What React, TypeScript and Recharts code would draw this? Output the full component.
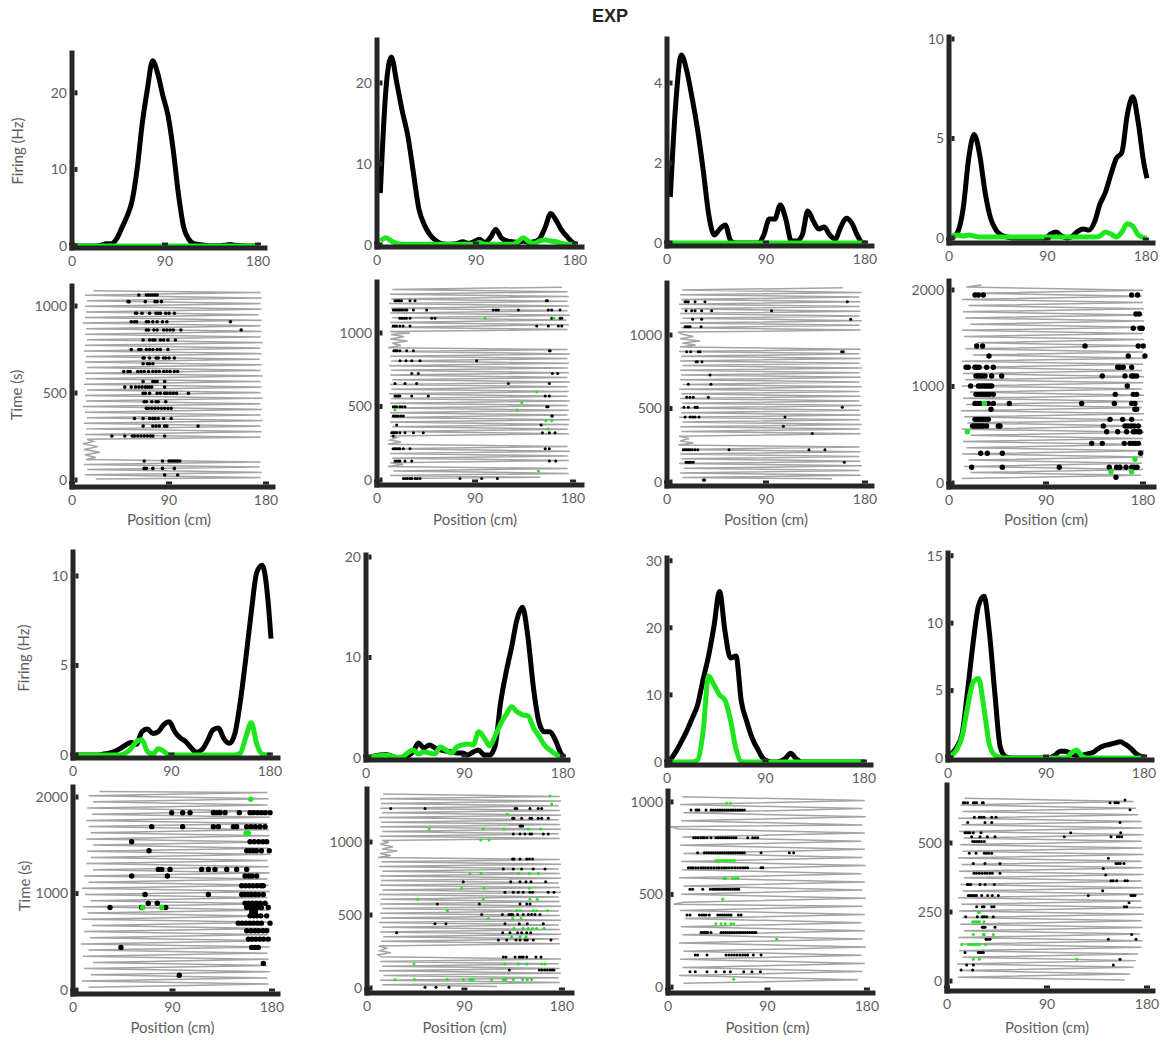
import React from "react";
import { LineChart, ComposedChart, Line, Scatter, XAxis, YAxis } from "recharts";

const FONT = "Lato, 'Noto Sans', sans-serif";
const AXIS = "#262626";
const TEXT = "#5e5e5e";
const GREEN = "#1de61d";
const TRACE = "#a4a4a4";

const X_TICKS = [0, 90, 180];
const POS_CM = [3, 8, 13, 18, 23, 28, 33, 38, 43, 48, 53, 58, 63, 68, 73, 78, 83, 88, 93, 98, 103, 108, 113, 118, 123, 128, 133, 138, 143, 148, 153, 158, 163, 168, 173, 178, 181];

// firing rate (Hz) at POS_CM, black = all, green = tagged
const RATE_A_BLACK = [0, 0, 0, 0, 0, 0.1, 0.3, 0.3, 0.9, 2.3, 3.8, 5.8, 10, 16, 20.5, 24.2, 22.5, 19.6, 17, 12.5, 6.8, 2.5, 0.9, 0.3, 0.2, 0.1, 0.05, 0.05, 0.05, 0.1, 0.2, 0.1, 0.05, 0, 0, 0, 0];
const RATE_A_GREEN = [0, 0, 0, 0, 0, 0, 0, 0, 0, 0, 0, 0, 0, 0, 0, 0, 0, 0, 0, 0, 0, 0, 0, 0, 0, 0, 0, 0, 0, 0, 0, 0, 0, 0, 0, 0, 0];
const RATE_B_BLACK = [6.4, 19, 23.2, 20, 16.5, 13.5, 9, 4.5, 2.5, 1.3, 0.6, 0.2, 0.1, 0.1, 0.2, 0.4, 0.2, 0.4, 0.7, 0.3, 0.9, 1.9, 0.9, 0.5, 0.4, 0.3, 0.5, 0.3, 0.4, 0.8, 2.2, 3.9, 3, 1.8, 1, 0.3, 0.1];
const RATE_B_GREEN = [0.5, 0.9, 0.5, 0.2, 0.1, 0.1, 0.1, 0.1, 0.1, 0.1, 0.1, 0.1, 0.1, 0.1, 0.1, 0.1, 0.1, 0.1, 0.3, 0.1, 0.1, 0.1, 0.1, 0.1, 0.1, 0.4, 0.9, 0.4, 0.2, 0.5, 0.6, 0.5, 0.4, 0.2, 0.1, 0.1, 0.1];
const RATE_C_BLACK = [1.15, 3.5, 4.7, 4.3, 3.6, 2.8, 1.8, 0.7, 0.2, 0.35, 0.45, 0.05, 0, 0, 0, 0, 0, 0.2, 0.6, 0.6, 0.95, 0.6, 0.05, 0.05, 0.2, 0.8, 0.55, 0.35, 0.4, 0.2, 0.1, 0.4, 0.62, 0.5, 0.2, 0, 0];
const RATE_C_GREEN = [0, 0, 0, 0, 0, 0, 0, 0, 0, 0, 0, 0, 0, 0, 0, 0, 0, 0, 0, 0, 0, 0, 0, 0, 0, 0, 0, 0, 0, 0, 0, 0, 0, 0, 0, 0, 0];
const RATE_D_BLACK = [0, 0.3, 1.5, 4, 5.2, 4.2, 2.3, 1, 0.4, 0.15, 0.05, 0, 0, 0, 0, 0, 0, 0, 0.2, 0.3, 0.1, 0, 0.1, 0.35, 0.45, 0.4, 0.8, 1.7, 2.3, 3.2, 4, 4.3, 6.2, 7.1, 5.8, 3.8, 3];
const RATE_D_GREEN = [0.1, 0.15, 0.1, 0.15, 0.1, 0.05, 0.05, 0.05, 0.05, 0.05, 0.05, 0.05, 0.05, 0.05, 0.05, 0.05, 0.05, 0.05, 0.05, 0.05, 0.05, 0.05, 0.05, 0.05, 0.05, 0.05, 0.05, 0.1, 0.3, 0.2, 0.05, 0.3, 0.72, 0.6, 0.15, 0.02, 0];
const RATE_E_BLACK = [0, 0, 0, 0, 0, 0.05, 0.1, 0.2, 0.35, 0.55, 0.7, 0.6, 1.3, 1.45, 1.2, 1.3, 1.7, 1.85, 1.3, 0.95, 0.75, 0.4, 0.15, 0.3, 0.8, 1.4, 1.5, 0.9, 0.65, 1.2, 3, 5.4, 8, 10.2, 10.6, 8.8, 6.5];
const RATE_E_GREEN = [0, 0, 0, 0, 0, 0, 0, 0, 0, 0.1, 0.35, 0.75, 0.85, 0.2, 0.05, 0.35, 0.2, 0, 0, 0, 0, 0, 0, 0, 0, 0, 0, 0, 0, 0, 0.1, 1, 1.8, 0.6, 0.05, 0, 0];
const RATE_F_BLACK = [0.1, 0.2, 0.3, 0.35, 0.2, 0.05, 0.05, 0.2, 0.6, 1.5, 1, 1.3, 1, 0.8, 0.7, 0.6, 0.5, 0.5, 0.3, 0.6, 0.8, 0.3, 0.3, 1.2, 5.5, 8.5, 11, 13.8, 15, 12, 7, 3.6, 2.6, 2.6, 1.8, 0.5, 0.1];
const RATE_F_GREEN = [0.1, 0.15, 0.25, 0.3, 0.2, 0.05, 0.1, 0.5, 0.8, 0.4, 0.6, 0.5, 0.4, 1.1, 0.8, 0.5, 1.1, 1.3, 1.4, 1.3, 2.6, 2, 1.2, 2.2, 3.4, 4.3, 5.1, 4.6, 4.3, 4.2, 3, 2.2, 1.3, 0.8, 0.4, 0.05, 0];
const RATE_G_BLACK = [0.3, 1.5, 3, 4.6, 6.5, 8.5, 12.3, 15.8, 20.3, 25.4, 19.5, 15.5, 15.8, 9, 6, 3.5, 1.9, 0.5, 0.1, 0, 0.1, 0.5, 1.3, 0.5, 0, 0, 0, 0, 0, 0, 0, 0, 0, 0, 0, 0, 0];
const RATE_G_GREEN = [0, 0, 0, 0, 0, 0.3, 4.5, 12.8, 11.5, 10, 9.2, 6.3, 2, 0.05, 0, 0, 0, 0, 0, 0, 0, 0, 0, 0, 0, 0, 0, 0, 0, 0, 0, 0, 0, 0, 0, 0, 0];
const RATE_H_BLACK = [0.3, 0.8, 1.8, 5, 8.5, 11.3, 12, 9.3, 4.8, 0.8, 0.1, 0, 0, 0, 0, 0, 0, 0, 0, 0.2, 0.5, 0.5, 0.3, 0.2, 0.2, 0.3, 0.4, 0.7, 0.9, 1, 1.1, 1.2, 1, 0.7, 0.3, 0.1, 0.05];
const RATE_H_GREEN = [0.2, 0.6, 1.6, 3.8, 5.6, 5.9, 3.7, 1, 0.2, 0.05, 0, 0, 0, 0, 0, 0, 0, 0, 0, 0, 0, 0, 0.35, 0.6, 0.15, 0, 0, 0, 0, 0, 0, 0, 0, 0, 0, 0, 0];

// animal trajectory turn points [position cm, time s]
const TRACE_A: [number, number][] = [[22, 6], [175, 14], [12, 30], [176, 44], [14, 60], [174, 75], [11, 90], [175, 104], [13, 118], [22, 130], [12, 145], [26, 160], [11, 176], [24, 192], [10, 208], [20, 222], [14, 234], [175, 246], [12, 262], [176, 278], [13, 294], [175, 310], [11, 326], [177, 342], [14, 358], [175, 374], [12, 390], [176, 406], [10, 422], [175, 438], [13, 454], [177, 470], [12, 486], [175, 502], [14, 518], [176, 534], [11, 550], [175, 566], [13, 582], [177, 598], [12, 614], [175, 630], [14, 646], [176, 662], [12, 678], [174, 694], [13, 710], [176, 726], [11, 742], [175, 758], [12, 774], [177, 790], [14, 806], [175, 822], [12, 838], [176, 854], [13, 870], [175, 886], [10, 902], [176, 918], [12, 934], [173, 950], [13, 966], [176, 982], [12, 998], [175, 1014], [14, 1030], [176, 1046], [12, 1062], [175, 1078], [20, 1088]];
const TRACE_B: [number, number][] = [[40, 12], [150, 18], [12, 30], [176, 45], [15, 62], [175, 78], [10, 92], [24, 105], [12, 118], [176, 132], [14, 148], [175, 164], [12, 180], [177, 196], [13, 212], [175, 228], [10, 244], [22, 258], [12, 272], [18, 288], [12, 300], [176, 314], [13, 330], [175, 346], [14, 362], [176, 378], [12, 394], [177, 410], [13, 426], [175, 442], [12, 458], [176, 474], [14, 490], [175, 506], [12, 522], [177, 538], [13, 554], [175, 570], [11, 586], [176, 602], [13, 618], [175, 634], [12, 650], [177, 666], [14, 682], [175, 698], [12, 714], [176, 730], [13, 746], [175, 762], [11, 778], [176, 794], [13, 810], [175, 826], [12, 842], [177, 858], [14, 874], [175, 888], [10, 900], [22, 915], [14, 930], [28, 945], [12, 960], [25, 975], [13, 990], [30, 1000], [12, 1010], [175, 1024], [13, 1040], [176, 1056], [12, 1072], [174, 1088], [14, 1104], [177, 1120], [12, 1136], [175, 1152], [13, 1168], [176, 1184], [11, 1200], [175, 1216], [13, 1232], [176, 1248], [12, 1264], [175, 1280], [14, 1296], [170, 1312]];
const TRACE_C: [number, number][] = [[150, 22], [14, 30], [176, 46], [12, 62], [175, 78], [15, 94], [177, 110], [11, 126], [176, 142], [13, 158], [175, 174], [12, 190], [176, 206], [14, 222], [175, 238], [10, 252], [24, 266], [12, 280], [20, 296], [11, 312], [176, 328], [13, 344], [175, 360], [12, 376], [177, 392], [14, 408], [175, 424], [11, 440], [176, 456], [13, 472], [175, 488], [12, 504], [177, 520], [14, 536], [175, 552], [12, 568], [176, 584], [13, 600], [175, 616], [11, 632], [177, 648], [14, 664], [175, 680], [12, 696], [176, 712], [13, 728], [175, 744], [12, 760], [177, 776], [14, 792], [175, 808], [12, 824], [176, 840], [13, 856], [175, 872], [11, 888], [176, 904], [12, 918], [26, 932], [14, 946], [30, 960], [12, 975], [24, 990], [14, 1005], [10, 1020], [176, 1034], [13, 1050], [175, 1066], [12, 1082], [177, 1098], [14, 1114], [175, 1130], [12, 1146], [176, 1162], [13, 1178], [175, 1194], [11, 1210], [176, 1226], [13, 1242], [175, 1258], [12, 1274], [177, 1290], [14, 1306], [160, 1322]];
const TRACE_D: [number, number][] = [[12, 48], [178, 80], [20, 110], [180, 140], [14, 172], [179, 205], [18, 238], [180, 270], [12, 302], [181, 334], [16, 366], [179, 398], [13, 430], [180, 462], [20, 494], [181, 526], [12, 558], [179, 590], [17, 622], [180, 654], [14, 686], [181, 718], [11, 750], [179, 782], [16, 814], [180, 846], [13, 878], [181, 910], [19, 942], [179, 974], [12, 1006], [180, 1038], [15, 1070], [181, 1102], [13, 1134], [179, 1166], [18, 1198], [180, 1230], [12, 1262], [181, 1294], [22, 1326], [180, 1358], [15, 1390], [179, 1422], [26, 1454], [181, 1486], [14, 1518], [180, 1550], [12, 1582], [179, 1614], [20, 1646], [181, 1678], [15, 1710], [180, 1742], [13, 1774], [181, 1806], [18, 1838], [180, 1870], [12, 1902], [179, 1934], [24, 1966], [180, 1998], [16, 2030], [30, 2052]];
const TRACE_E: [number, number][] = [[14, 30], [177, 62], [8, 94], [176, 126], [16, 158], [178, 190], [10, 222], [176, 254], [18, 286], [177, 318], [9, 350], [176, 382], [14, 414], [178, 446], [7, 478], [177, 510], [15, 542], [176, 574], [10, 606], [178, 638], [17, 670], [177, 702], [8, 734], [176, 766], [13, 798], [178, 830], [9, 862], [177, 894], [16, 926], [176, 958], [11, 990], [178, 1022], [8, 1054], [177, 1086], [14, 1118], [176, 1150], [10, 1182], [178, 1214], [18, 1246], [177, 1278], [12, 1310], [176, 1342], [16, 1374], [178, 1406], [13, 1438], [177, 1470], [18, 1502], [176, 1534], [12, 1566], [178, 1598], [16, 1630], [177, 1662], [14, 1694], [176, 1726], [12, 1758], [178, 1790], [17, 1822], [177, 1854], [13, 1886], [176, 1918], [18, 1950], [177, 1982], [14, 2014], [176, 2046], [24, 2058]];
const TRACE_F: [number, number][] = [[120, 10], [14, 22], [178, 38], [12, 54], [177, 70], [15, 86], [179, 102], [11, 118], [178, 134], [14, 150], [177, 166], [12, 182], [179, 198], [13, 214], [10, 228], [22, 242], [12, 256], [18, 272], [11, 288], [178, 304], [13, 320], [177, 336], [15, 352], [179, 368], [12, 384], [178, 400], [14, 416], [177, 432], [11, 448], [179, 464], [13, 480], [178, 496], [12, 512], [177, 528], [14, 544], [179, 560], [12, 576], [178, 592], [13, 608], [177, 624], [11, 640], [179, 656], [14, 672], [178, 688], [12, 704], [177, 720], [13, 736], [179, 752], [12, 768], [178, 784], [14, 800], [177, 816], [11, 832], [179, 848], [13, 864], [178, 880], [10, 894], [22, 908], [12, 922], [28, 938], [14, 952], [24, 968], [12, 984], [20, 998], [14, 1010], [178, 1024], [12, 1040], [177, 1056], [14, 1072], [179, 1088], [12, 1104], [178, 1120], [13, 1136], [177, 1152], [11, 1168], [179, 1184], [14, 1200], [178, 1216], [12, 1232], [177, 1248], [13, 1264], [179, 1280], [12, 1296], [178, 1312], [15, 1328]];
const TRACE_G: [number, number][] = [[14, 20], [172, 40], [10, 62], [176, 84], [13, 106], [178, 128], [11, 150], [175, 172], [14, 194], [179, 216], [10, 238], [176, 260], [13, 282], [178, 304], [12, 326], [175, 348], [15, 370], [178, 392], [11, 414], [176, 436], [5, 448], [14, 458], [179, 480], [12, 502], [176, 524], [14, 546], [178, 568], [10, 590], [175, 612], [13, 634], [179, 656], [12, 678], [176, 700], [14, 722], [178, 744], [11, 766], [175, 788], [13, 810], [178, 832], [10, 854], [2, 866], [176, 876], [12, 898], [179, 920], [14, 942], [176, 964], [11, 986], [178, 1008], [13, 1028]];
const TRACE_H: [number, number][] = [[160, 4], [10, 14], [165, 26], [12, 38], [168, 50], [9, 62], [170, 74], [14, 86], [172, 98], [11, 110], [175, 122], [13, 134], [176, 146], [10, 158], [174, 170], [15, 182], [176, 194], [12, 206], [175, 218], [14, 230], [177, 242], [11, 254], [176, 266], [13, 278], [175, 290], [10, 302], [177, 314], [14, 326], [176, 338], [12, 350], [175, 362], [15, 374], [177, 386], [11, 398], [176, 410], [13, 422], [175, 434], [10, 446], [177, 458], [14, 470], [176, 482], [12, 494], [175, 506], [15, 518], [177, 530], [11, 542], [176, 554], [13, 566], [175, 578], [10, 590], [172, 602], [14, 614], [170, 626], [12, 638], [168, 650], [16, 662]];

// spikes: [time s, positions cm]
const SPK_A_BLACK: [number, number[]][] = [
  [1063, [62, 69, 71, 73, 75, 77, 79]], [1025, [52, 53, 68, 77, 79, 83]], [958, [59, 60, 65, 72, 78, 80, 82, 87, 90, 95]],
  [910, [55, 58, 60, 69, 71, 75, 79, 84, 88, 147]], [862, [69, 71, 76, 79, 85, 88, 91, 94, 101, 157]], [805, [66, 72, 75, 77, 82, 85, 89, 96]],
  [750, [55, 62, 64, 69, 72, 75, 79, 82, 89]], [701, [66, 67, 72, 78, 80, 85, 87, 90, 95]], [668, [66, 70, 72, 75]],
  [624, [48, 52, 54, 61, 64, 67, 71, 75, 78, 81, 85, 88, 91, 95, 98]], [566, [66, 75, 77, 79, 86]], [534, [49, 55, 59, 62, 65, 68, 70, 72, 74, 86]],
  [498, [66, 68, 72, 79, 82, 86, 88, 91, 94, 97, 108]], [450, [67, 69, 74, 78, 80, 87]], [412, [69, 71, 74, 77, 80, 83, 86, 89, 92]],
  [354, [58, 66, 72, 75, 77, 80, 85, 92]], [310, [66, 75, 78, 81, 86, 88, 117]], [253, [37, 49, 56, 58, 61, 64, 67, 70, 73, 75, 86]],
  [109, [67, 84, 90, 92, 94, 96, 98, 100]], [67, [67, 69, 75, 84, 95]], [29, [86, 98]],
];
const SPK_A_GREEN: [number, number[]][] = [];
const SPK_B_BLACK: [number, number[]][] = [
  [1220, [16.5, 18, 19.6, 21, 22.5, 30.3, 34.9, 155.5, 156.5]], [1156, [15, 16.5, 18, 19.6, 21, 22.5, 24, 26, 27.5, 33.4, 45.6, 106.8, 109.3, 111.4, 129.8, 157.3, 160.4, 168]],
  [1100, [21, 23, 25, 27, 30.3, 50.2, 53.3, 160.4, 168, 169.6]], [1047, [15, 16.5, 18, 21, 24, 30.3, 146.6, 157.3, 166.5, 169.6]],
  [879, [15.5, 17, 18.5, 21, 27.2, 33.4, 158.2, 159]], [811, [21.1, 26.7, 31.9, 39.5, 91.5]], [725, [31.9, 37.9, 161, 165.9]],
  [657, [16.5, 25.7, 36.4, 120.6, 158.2]], [572, [16.5, 18, 19.6, 21, 31.9, 47.1, 154.4, 158.2]], [498, [15, 16.5, 18, 21, 23, 25.7, 155.8, 157]],
  [435, [15, 16.5, 18, 19.6, 22, 24.2, 160.4, 161]], [374, [18.1, 150.7]], [322, [13.5, 15, 16.5, 18, 21, 25.7, 33.4, 42.5, 151.9, 158.2, 163.5]],
  [300, [15]], [213, [15, 16.5, 18, 19.6, 21, 24.2, 30.3, 154.4, 158.2]], [129, [16.5, 18, 19.6, 21, 25.7, 31.9, 158.2, 164.1]],
  [10, [24.2, 26, 28, 30.3, 32, 34.9, 37, 39.5, 76.2, 96.1, 110.5]],
];
const SPK_B_GREEN: [number, number[]][] = [[1100, [99.2, 162.5]], [601, [146.6]], [525, [132.9]], [476, [16.5, 128.8]], [403, [155, 160.4]], [347, [157.3]], [62, [148.2]]];
const SPK_C_BLACK: [number, number[]][] = [
  [1227, [16.4, 17.5, 19.4, 25.5, 34.5, 163.9]], [1166, [17.3, 22.4, 25.5, 31.5, 40.6, 95.1]], [1108, [23.3, 31.5, 167]],
  [1057, [16.4, 18, 19.4, 20.9, 31]], [887, [17.9, 21.5, 28.5, 30, 158.8, 160.3]], [819, [26.4, 27.6, 31.8]], [728, [39.1]],
  [665, [19.4, 40]], [577, [17.9, 20.9, 23.9, 37.6]], [509, [15.4, 19.4, 25.5, 26.5, 27.6, 159.4]],
  [443, [16.4, 20.9, 23.3, 25.5, 29.1, 107.3]], [380, [105.8]], [330, [132.1]],
  [219, [14.8, 16.3, 17.8, 19.4, 21, 23, 25.5, 28, 56.4, 129.1, 143.6]], [135, [17.3, 18.8, 20.3, 21.8, 23.9, 161.2]], [14, [33, 33.6, 34.2]],
];
const SPK_C_GREEN: [number, number[]][] = [];
const SPK_D_BLACK: [number, number[]][] = [
  [1948, [24.1, 27.2, 31.8, 169.5, 175]], [1751, [173.5, 176.5]], [1603, [171, 177.2, 179.3]], [1420, [25.7, 31.2, 126.2, 175.6, 180.2]],
  [1316, [37.1, 166.3, 181.8]], [1199, [15.8, 17.9, 24.1, 26, 28, 34.9, 41.1, 156.5, 158.6, 161.7, 169.5]],
  [1109, [25, 27, 29, 31, 33.4, 39.6, 48.9, 142.2, 163.3, 169.5, 171.5, 174.1]], [1005, [20.1, 27.2, 29.2, 31.5, 33.5, 35.5, 37.5, 39.6, 165.4]],
  [919, [25, 27.5, 30, 32.5, 35, 37.5, 41.1, 154.3, 171, 174.1]], [825, [24.1, 26.5, 28.8, 36.5, 41.1, 56, 123.1, 153.4, 169.5, 172.5]],
  [764, [39, 172.5, 174.1]], [660, [24.1, 26.5, 29, 31.5, 34, 36.5, 149.4, 161.1, 169.5]],
  [591, [21.9, 24, 26, 28, 30, 32, 34.9, 45.7, 47.3, 143.2, 163.3, 166, 169, 172, 175.6]], [532, [146.3, 156.5, 164.8, 171, 173.5, 176, 177.2]],
  [411, [132.4, 142.2, 162.6, 167.9, 170.5, 173, 175.6]], [308, [29.4, 35.5, 49.5, 177.8]],
  [163, [21, 49.5, 102.3, 148.7, 155.5, 158.6, 164.2, 169.5, 172, 174.5]], [60, [154.9]],
];
const SPK_D_GREEN: [number, number[]][] = [[825, [32.8]], [532, [17]], [246, [172.5]], [118, [150.3, 169.5]]];
const SPK_E_BLACK: [number, number[]][] = [
  [1838, [89.3, 99.2, 105.9, 127, 130, 133, 137.6, 150.5, 160.2, 163.5, 167, 170.5, 174, 178.3]], [1693, [71.2, 99.2, 127, 131.5, 145.1, 148.1, 157.2, 161, 165, 169.2, 173.8]],
  [1537, [53.1, 160.2, 164, 168, 172, 175.3]], [1444, [68.8, 157.2, 160, 163, 166, 170.5, 177.6]],
  [1250, [77.2, 80.3, 87.8, 116.4, 122.5, 128.5, 139.1, 148.1, 157.2]], [1181, [53.1, 85.4, 155.7, 159, 162, 166.2]],
  [1081, [152.6, 156, 159.5, 163, 166.5, 170, 172.2]], [990, [65.2, 122.5, 152.6, 155.5, 158.5, 161.5, 164.7, 168, 172.2]],
  [900, [68.1, 76.3, 155.7, 159, 162.5, 166, 169.5, 173.8]], [855, [33.5, 62.2, 83.9, 157.2, 160.5, 163.5, 167, 170.5, 176.7]],
  [810, [161.7, 165]], [769, [160.2, 163.5, 166.5, 170, 175.3]], [693, [149.6, 153, 156.5, 160, 163.5, 167, 170.5, 178.3]],
  [614, [157.2, 161, 164.7, 168, 172, 175.3]], [528, [158.7, 162, 165.5, 169, 172.5, 176.7]], [442, [43.4, 161.7, 164.7, 167.7]],
  [276, [172.2]], [153, [96.2]],
];
const SPK_E_GREEN: [number, number[]][] = [[1976, [160.8]], [1624, [156.6, 158.7]], [855, [63.1, 80.3]]];
const SPK_F_BLACK: [number, number[]][] = [
  [1230, [21.9, 53.6, 136.7, 138.2, 150.5, 158.1, 161.3]], [1162, [134.5, 135.7, 142.8, 150.5, 152, 158.1, 161.3, 167.4]], [1109, [141.3, 142.5, 143.7]],
  [1055, [135.1, 141.3, 145.9, 150.5, 152, 162.8, 167.4]], [884, [134.5, 135.7, 141.3, 147.5, 150, 152.9]], [815, [125.9, 135.1, 142.8, 153.5, 164.4]],
  [728, [88.9, 132.7, 141.3, 146.8, 151.4, 165]], [656, [127.4, 135.1, 139.7, 144.3, 150.5, 152.9, 167.4, 172.7]], [575, [64.9, 103.7, 141.3, 147.5, 150.5]],
  [504, [105.9, 125, 131.1, 133, 134.5, 139.1, 144.3, 148.9, 152, 155.1, 159.7]], [440, [62.8, 72.9, 127.4, 140.6, 148, 162.8]],
  [379, [27.4, 125.3, 132, 139.1, 142.8, 147.5, 151.1]], [329, [121.3, 129, 137.6, 141.3, 145.9, 148, 153.5, 169.9]],
  [212, [125.9, 128.3, 136.7, 140.6, 142.5, 144.3, 147.5, 156, 160.7]], [124, [131.4, 159.1, 161.5, 164, 166.5, 169, 171, 172.7]], [5, [53.6, 63.7, 75.7]],
];
const SPK_F_GREEN: [number, number[]][] = [
  [1315, [169]], [1260, [170.5]], [1190, [129.6]], [1089, [57.5, 107.4, 126.5, 148.9, 160.3]], [1014, [105, 112.7]],
  [785, [95.1, 105.3, 139.7, 149.9, 158.1]], [683, [87.4, 108.3, 149.9]], [608, [46.8, 107.4, 150.5, 157.2]],
  [530, [74.2, 138.2, 141.3, 153.5, 156.6, 166.8]], [477, [112, 134.5, 142.2]], [408, [135.7, 144.3, 148.9, 152.9, 156.6, 163.4]],
  [352, [133.6, 141.3, 146.8]], [165, [43.4, 127.4, 139.7, 147.5, 161.3, 164.4]],
  [59, [25.9, 43.7, 74.2, 88.9, 95.1, 96.6, 98.2, 115.1, 125.9, 127.4, 128.3, 135.1, 143.7, 148, 152]],
];
const SPK_G_BLACK: [number, number[]][] = [
  [957, [20.8, 25.3, 26.8, 28, 34.4, 38.9, 41, 43, 45, 47, 49, 51, 53, 55, 57, 59, 61, 63, 65, 67, 69.1]],
  [807, [23.2, 25, 27, 29.5, 31.5, 32.9, 35.3, 38.9, 43.4, 45.5, 47.5, 49.5, 51.5, 53.5, 55.5, 57.5, 59.5, 61.5, 72.1, 76.6, 79, 81.2]],
  [726, [26.8, 32.9, 35, 37, 39, 41, 43, 45, 47, 49, 51, 53, 55, 57, 59, 61, 63, 65, 67, 69.1, 84.2, 109.8, 113.7]],
  [645, [18.4, 20.5, 22.5, 25, 27.5, 30, 32, 34, 36.5, 39, 41.5, 44, 46, 48.5, 51, 53, 55.5, 58, 60.5, 63, 65.5, 68, 70, 72.1, 84.2, 85.7]],
  [528, [19.9, 22.3, 31.4, 38.3, 40.5, 42.5, 44.5, 46.5, 48.5, 50.5, 52.5, 54.5, 56.5, 58.5, 60.5, 62.5, 64]],
  [389, [17.2, 19.9, 28.4, 30.5, 32.5, 34.5, 37.4, 45, 47, 49, 51, 53, 55, 57, 63.7, 66.1]],
  [295, [29.9, 31.5, 33, 34.5, 36, 38.9, 48, 50, 52, 54, 56, 58, 60, 62, 64, 66, 68, 70, 72, 74, 76, 78, 79.6]],
  [173, [24.7, 26.8, 35.3, 52.5, 55, 57.5, 60, 62.5, 65, 67.5, 70, 72.1, 77.2, 84.2]],
  [83, [19.9, 24.7, 35.3, 43.4, 51, 56.4, 68.5, 76, 83.6]],
];
const SPK_G_GREEN: [number, number[]][] = [
  [993, [53, 56.5]], [683, [43.4, 45.5, 47.5, 49.5, 51.5, 53.5, 55.5, 57.5, 60]], [586, [50.4, 52, 58.5, 61, 63.1]],
  [474, [49.5]], [342, [43.4, 48, 51.9, 57, 59.5]], [258, [98.4]], [42, [59.4]],
];
const SPK_H_BLACK: [number, number[]][] = [
  [656, [160.2]], [646, [14.7, 16.2, 18.5, 23.7, 25.2, 26.7, 31.8, 32.7, 146.7, 151.2, 152.5, 154.2]], [620, [164.7]],
  [593, [24.6, 29.1, 31, 33.3, 40.2, 44.1]], [574, [18.6, 34.2, 40.2, 155.7]], [537, [16.2, 17.5, 19.2, 20.7, 23.7, 30.6, 111.3, 156.3]],
  [523, [22.2, 29.7, 36.3, 43.2, 105.6, 147.6, 153.3, 155, 157.2]], [505, [23.1, 25, 27, 29, 31, 33.6]], [463, [20.1, 26.1, 33.6, 35.5, 37.5, 40.2]],
  [445, [145.2]], [426, [23.7, 34.2, 47.7, 152.1, 154, 156, 159.3]], [408, [140.7]], [390, [24.3, 26.5, 29, 31.5, 34, 36, 38.5, 40.8, 47.7]],
  [384, [142.8]], [363, [147.6, 149.5, 152.7, 160.2, 162.3]], [350, [18.3, 19.5, 21.3, 29.7, 34.2, 42.6]], [327, [140.1]],
  [310, [19.2, 20.5, 22, 23.5, 25.2, 26.5, 31.2, 36.6, 40.8, 46.2, 127.2, 165.6, 167.5, 169.2]], [284, [163.8]],
  [269, [26.7, 31.8, 33.3, 40.2, 42.3, 159.6, 161.7]], [233, [16.8, 27.3, 31.8, 33.5, 35.7, 41.7]], [195, [31.8, 33, 34.2, 43.2]],
  [169, [166.2]], [151, [35.1, 36.5, 38.7, 145.2, 170.1]], [103, [16.2, 28.2, 29.7, 31.2, 32.7]], [79, [155.7]],
  [58, [17.7, 23.7, 149.7]], [40, [12.6, 23.1]],
];
const SPK_H_GREEN: [number, number[]][] = [
  [249, [28.2, 29.1]], [215, [23.1, 25, 26.5, 28.2, 29.1, 33.3]], [169, [23.7, 32.7, 33.6, 41.7]],
  [132, [13.2, 19.2, 21, 23, 25, 27, 29.1, 34.8]], [79, [23.7, 29.1, 116.7]],
];

type Frame = { left: number; right: number; top: number; bottom: number; xMax: number; yMin: number; yMax: number };

const ML = 70;
const MR = 10;
const MT = 10;
const MB = 40;
const X_GAP = 13;
const Y_GAP = 5;

const YTick = (props: any) => {
  const { x, y, payload } = props;
  const axisX = x + Y_GAP;
  return (
    <g>
      <rect x={axisX + 2.5} y={y - 2.5} width={3} height={5} fill={AXIS} />
      <text x={x} y={y} dy="0.35em" textAnchor="end" fontSize={14} fontFamily={FONT} fill={TEXT}>
        {payload.value}
      </text>
    </g>
  );
};

const XTick = (props: any) => {
  const { x, y, payload } = props;
  const axisY = y - X_GAP;
  return (
    <g>
      <rect x={x - 3} y={axisY - 5.5} width={6} height={3} fill={AXIS} />
      <text x={x} y={y} dy="0.35em" textAnchor="middle" fontSize={14} fontFamily={FONT} fill={TEXT}>
        {payload.value}
      </text>
    </g>
  );
};

const axisLine = { stroke: AXIS, strokeWidth: 5, strokeLinecap: "square" as const };

function Axes(f: Frame, yTicks: number[], xKey: string, yKey?: string) {
  return [
    <XAxis key="x" type="number" dataKey={xKey} domain={[0, f.xMax]} ticks={X_TICKS} interval={0} allowDataOverflow
      height={MB} axisLine={axisLine} tickLine={false} tickSize={0} tickMargin={X_GAP} tick={<XTick />} />,
    <YAxis key="y" type="number" dataKey={yKey} domain={[f.yMin, f.yMax]} ticks={yTicks} interval={0} allowDataOverflow
      width={ML} axisLine={axisLine} tickLine={false} tickSize={0} tickMargin={Y_GAP} tick={<YTick />} />,
  ];
}

function place(f: Frame) {
  return {
    style: { position: "absolute" as const, left: f.left - ML, top: f.top - MT },
    width: f.right - f.left + ML + MR,
    height: f.bottom - f.top + MT + MB,
  };
}

function RatePanel({ f, black, green, yTicks }: { f: Frame; black: number[]; green: number[]; yTicks: number[] }) {
  const rows = POS_CM.map((x, i) => ({ x, black: black[i], green: green[i] }));
  const p = place(f);
  return (
    <div style={p.style}>
      <LineChart width={p.width} height={p.height} data={rows} margin={{ top: MT, right: MR, left: 0, bottom: 0 }}>
        {Axes(f, yTicks, "x")}
        <Line dataKey="black" type="monotone" stroke="#000" strokeWidth={5} strokeLinejoin="round" dot={false} activeDot={false} isAnimationActive={false} />
        <Line dataKey="green" type="monotone" stroke={GREEN} strokeWidth={5} strokeLinejoin="round" dot={false} activeDot={false} isAnimationActive={false} />
      </LineChart>
    </div>
  );
}

const toPoints = (rows: [number, number[]][]) => rows.flatMap(([t, xs]) => xs.map((x) => ({ x, t })));
const dotShape = (r: number, fill: string) => (p: any) => <circle cx={p.cx} cy={p.cy} r={r} fill={fill} />;

function RasterPanel({ f, trace, black, green, yTicks, r }: {
  f: Frame; trace: [number, number][]; black: [number, number[]][]; green: [number, number[]][]; yTicks: number[]; r: number;
}) {
  const p = place(f);
  const path = trace.map(([x, t]) => ({ x, t }));
  return (
    <div style={p.style}>
      <ComposedChart width={p.width} height={p.height} margin={{ top: MT, right: MR, left: 0, bottom: 0 }}>
        {Axes(f, yTicks, "x", "t")}
        <Line data={path} dataKey="t" type="linear" stroke={TRACE} strokeWidth={1.5} dot={false} activeDot={false} isAnimationActive={false} />
        <Scatter data={toPoints(black)} shape={dotShape(r, "#000")} isAnimationActive={false} />
        <Scatter data={toPoints(green)} shape={dotShape(r, GREEN)} isAnimationActive={false} />
      </ComposedChart>
    </div>
  );
}

const RATE_FRAMES: Frame[] = [
  { left: 72, right: 265, top: 53, bottom: 248, xMax: 186.8, yMin: -0.26, yMax: 25.2 },
  { left: 377, right: 582, top: 40, bottom: 247, xMax: 186.4, yMin: -0.25, yMax: 25.3 },
  { left: 667, right: 872, top: 39, bottom: 246, xMax: 186.4, yMin: -0.075, yMax: 5.1 },
  { left: 949, right: 1153, top: 37, bottom: 243, xMax: 186.5, yMin: -0.25, yMax: 10.1 },
  { left: 73, right: 278, top: 552, bottom: 758, xMax: 187.4, yMin: -0.17, yMax: 11.34 },
  { left: 366, right: 568, top: 555, bottom: 760, xMax: 184.6, yMin: -0.2, yMax: 20.2 },
  { left: 667, right: 871, top: 558, bottom: 765, xMax: 186.5, yMin: -0.45, yMax: 30.4 },
  { left: 948, right: 1152, top: 553, bottom: 760, xMax: 187.3, yMin: -0.15, yMax: 15.2 },
];
const RASTER_FRAMES: Frame[] = [
  { left: 72, right: 273, top: 286, bottom: 487, xMax: 186.5, yMin: -40, yMax: 1115 },
  { left: 377, right: 582, top: 282, bottom: 485, xMax: 188.2, yMin: -34, yMax: 1347 },
  { left: 667, right: 872, top: 283, bottom: 486, xMax: 186.4, yMin: -27, yMax: 1354 },
  { left: 949, right: 1154, top: 281, bottom: 487, xMax: 190.2, yMin: -41, yMax: 2093 },
  { left: 73, right: 278, top: 787, bottom: 994, xMax: 185.5, yMin: -41, yMax: 2104 },
  { left: 367, right: 572, top: 789, bottom: 993, xMax: 189.3, yMin: -34, yMax: 1363 },
  { left: 668, right: 873, top: 791, bottom: 993, xMax: 185.5, yMin: -32, yMax: 1059 },
  { left: 947, right: 1153, top: 785, bottom: 991, xMax: 185.4, yMin: -36, yMax: 710 },
];

const RATE_TICKS = [[0, 10, 20], [0, 10, 20], [0, 2, 4], [0, 5, 10], [0, 5, 10], [0, 10, 20], [0, 10, 20, 30], [0, 5, 10, 15]];
const RASTER_TICKS = [[0, 500, 1000], [0, 500, 1000], [0, 500, 1000], [0, 1000, 2000], [0, 1000, 2000], [0, 500, 1000], [0, 500, 1000], [0, 250, 500]];
const RATES = [
  [RATE_A_BLACK, RATE_A_GREEN], [RATE_B_BLACK, RATE_B_GREEN], [RATE_C_BLACK, RATE_C_GREEN], [RATE_D_BLACK, RATE_D_GREEN],
  [RATE_E_BLACK, RATE_E_GREEN], [RATE_F_BLACK, RATE_F_GREEN], [RATE_G_BLACK, RATE_G_GREEN], [RATE_H_BLACK, RATE_H_GREEN],
];
const RASTERS: [[number, number][], [number, number[]][], [number, number[]][], number][] = [
  [TRACE_A, SPK_A_BLACK, SPK_A_GREEN, 1.8], [TRACE_B, SPK_B_BLACK, SPK_B_GREEN, 1.5],
  [TRACE_C, SPK_C_BLACK, SPK_C_GREEN, 1.5], [TRACE_D, SPK_D_BLACK, SPK_D_GREEN, 2.7],
  [TRACE_E, SPK_E_BLACK, SPK_E_GREEN, 2.7], [TRACE_F, SPK_F_BLACK, SPK_F_GREEN, 1.5],
  [TRACE_G, SPK_G_BLACK, SPK_G_GREEN, 1.5], [TRACE_H, SPK_H_BLACK, SPK_H_GREEN, 1.5],
];

const labelStyle = { fontFamily: FONT, fontSize: 15, fill: TEXT };

export default function App() {
  return (
    <div style={{ position: "absolute", left: 0, top: 0, width: 1166, height: 1042, background: "#fff" }}>
      {RATE_FRAMES.map((f, i) => (
        <RatePanel key={`r${i}`} f={f} black={RATES[i][0]} green={RATES[i][1]} yTicks={RATE_TICKS[i]} />
      ))}
      {RASTER_FRAMES.map((f, i) => (
        <RasterPanel key={`s${i}`} f={f} trace={RASTERS[i][0]} black={RASTERS[i][1]} green={RASTERS[i][2]} r={RASTERS[i][3]} yTicks={RASTER_TICKS[i]} />
      ))}
      <svg width={1166} height={1042} style={{ position: "absolute", left: 0, top: 0, pointerEvents: "none" }}>
        <text x={610} y={16} dy="0.35em" textAnchor="middle" fontFamily="'Liberation Sans', Arial, sans-serif" fontWeight="bold" fontSize={18} fill="#222">
          EXP
        </text>
        <text transform="translate(18,151) rotate(-90)" dy="0.35em" textAnchor="middle" {...labelStyle}>Firing (Hz)</text>
        <text transform="translate(17,395) rotate(-90)" dy="0.35em" textAnchor="middle" {...labelStyle}>Time (s)</text>
        <text transform="translate(24,658) rotate(-90)" dy="0.35em" textAnchor="middle" {...labelStyle}>Firing (Hz)</text>
        <text transform="translate(25,886) rotate(-90)" dy="0.35em" textAnchor="middle" {...labelStyle}>Time (s)</text>
        {RASTER_FRAMES.map((f, i) => (
          <text key={`p${i}`} x={f.left + (90 * (f.right - f.left)) / f.xMax} y={i < 4 ? 520 : 1028} dy="0.35em" textAnchor="middle" {...labelStyle}>
            Position (cm)
          </text>
        ))}
      </svg>
    </div>
  );
}
